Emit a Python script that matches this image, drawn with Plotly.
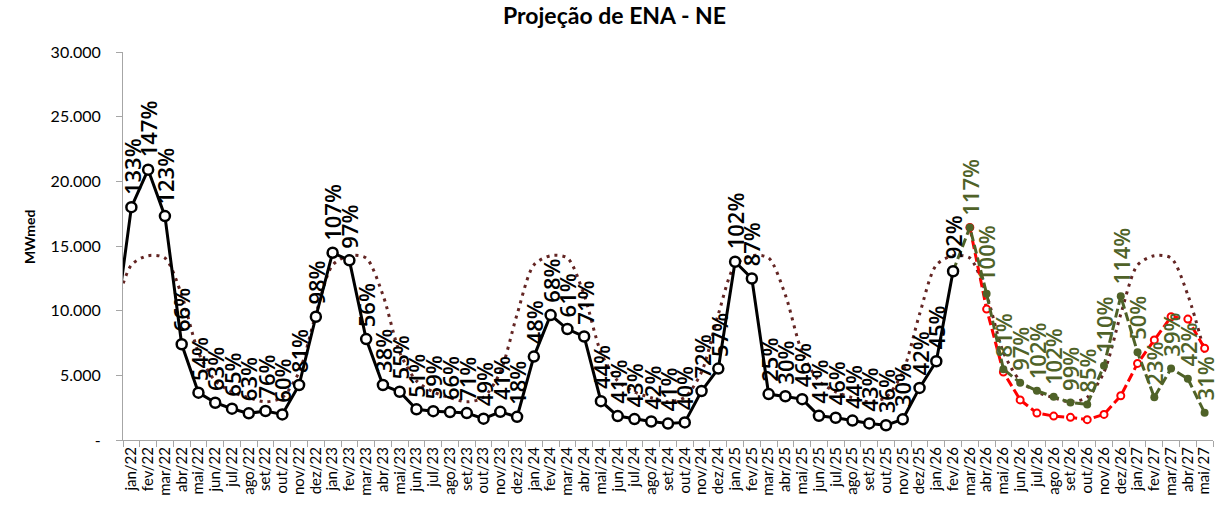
import plotly.graph_objects as go

# ---------------- data ----------------
meses = [
    "dez/21",
    "jan/22", "fev/22", "mar/22", "abr/22", "mai/22", "jun/22", "jul/22", "ago/22", "set/22", "out/22", "nov/22", "dez/22",
    "jan/23", "fev/23", "mar/23", "abr/23", "mai/23", "jun/23", "jul/23", "ago/23", "set/23", "out/23", "nov/23", "dez/23",
    "jan/24", "fev/24", "mar/24", "abr/24", "mai/24", "jun/24", "jul/24", "ago/24", "set/24", "out/24", "nov/24", "dez/24",
    "jan/25", "fev/25", "mar/25", "abr/25", "mai/25", "jun/25", "jul/25", "ago/25", "set/25", "out/25", "nov/25", "dez/25",
    "jan/26", "fev/26", "mar/26", "abr/26", "mai/26", "jun/26", "jul/26", "ago/26", "set/26", "out/26", "nov/26", "dez/26",
    "jan/27", "fev/27", "mar/27", "abr/27", "mai/27",
]

# MLT (long-term mean), dez/21 .. mai/27
mlt = [
    9720,
    13530, 14250, 14070, 11210, 6780, 4570, 3720, 3270, 2950, 3300, 5250, 9720,
    13530, 14250, 14070, 11210, 6780, 4570, 3720, 3270, 2950, 3300, 5250, 9720,
    13530, 14250, 14070, 11210, 6780, 4570, 3720, 3270, 2950, 3300, 5250, 9720,
    13530, 14250, 14070, 11210, 6780, 4570, 3720, 3270, 2950, 3300, 5250, 9720,
    13530, 14250, 14070, 11210, 6780, 4570, 3720, 3270, 2950, 3300, 5250, 9720,
    13530, 14250, 14070, 11210, 6780,
]

# Verified ENA, dez/21 .. fev/26
ena_meses = meses[0:51]
ena = [
    8300,
    18000, 20900, 17310, 7400, 3660, 2880, 2420, 2060, 2240, 1980, 4250, 9530,
    14480, 13890, 7800, 4250, 3730, 2370, 2230, 2160, 2080, 1650, 2180, 1790,
    6450, 9660, 8580, 8000, 3000, 1850, 1620, 1430, 1270, 1360, 3790, 5520,
    13780, 12490, 3550, 3380, 3160, 1870, 1720, 1500, 1280, 1140, 1600, 4030,
    6090, 13050,
]
ena_pct = [
    "",
    "133%", "147%", "123%", "66%", "54%", "63%", "65%", "63%", "76%", "60%", "81%", "98%",
    "107%", "97%", "56%", "38%", "55%", "51%", "59%", "66%", "71%", "49%", "41%", "18%",
    "48%", "68%", "61%", "71%", "44%", "41%", "43%", "42%", "41%", "40%", "72%", "57%",
    "102%", "87%", "25%", "30%", "46%", "41%", "46%", "44%", "43%", "36%", "30%", "42%",
    "45%", "92%",
]

# Projection (green), fev/26 .. mai/27
proj_meses = meses[50:66]
proj = [13050, 16440, 11300, 5480, 4430, 3800, 3340, 2900, 2750, 5750, 11120,
        6780, 3300, 5520, 4740, 2100]
proj_pct = ["", "117%", "100%", "81%", "97%", "102%", "102%", "99%", "85%", "110%", "114%",
            "50%", "23%", "39%", "42%", "31%"]

# Alternative scenario (red), mar/26 .. mai/27
alt_meses = meses[51:66]
alt = [16440, 10120, 5250, 3100, 2080, 1850, 1750, 1570, 1980, 3420,
       5920, 7730, 9530, 9350, 7090]

y_ticks = [0, 5000, 10000, 15000, 20000, 25000, 30000]
y_ticktext = ["-", "5.000", "10.000", "15.000", "20.000", "25.000", "30.000"]

# ---------------- styles ----------------
FONT = "Lato"
LABEL_FONT = "Open Sans"
C_MLT = "#632523"
C_HIST = "#000000"
C_PROJ = "#4F6228"
C_ALT = "#FF0000"
AXIS_GRAY = "#A6A6A6"

fig = go.Figure()

fig.add_trace(go.Scatter(
    x=meses, y=mlt, mode="lines", name="MLT",
    line=dict(color=C_MLT, width=3, dash="3px,5px", shape="spline", smoothing=0.8),
    hoverinfo="skip",
))
fig.add_trace(go.Scatter(
    x=alt_meses, y=alt, mode="lines+markers", name="Cenário",
    line=dict(color=C_ALT, width=3, dash="9px,4px"),
    marker=dict(symbol="circle", size=7, color="white", line=dict(color=C_ALT, width=2)),
))
fig.add_trace(go.Scatter(
    x=proj_meses, y=proj, mode="lines+markers", name="Projeção",
    line=dict(color=C_PROJ, width=3, dash="9px,4px"),
    marker=dict(symbol="circle", size=8, color=C_PROJ),
))
fig.add_trace(go.Scatter(
    x=ena_meses, y=ena, mode="lines+markers", name="ENA",
    line=dict(color=C_HIST, width=3),
    marker=dict(symbol="circle", size=10, color="white", line=dict(color=C_HIST, width=2.5)),
))

annotations = []
for xm, yv, t in zip(ena_meses, ena, ena_pct):
    if t:
        annotations.append(dict(
            x=xm, y=yv, xref="x", yref="y", text=t, showarrow=False,
            textangle=-90, xanchor="center", yanchor="bottom", yshift=10,
            font=dict(family=LABEL_FONT, size=22, color=C_HIST, weight=600),
        ))
for xm, yv, t in zip(proj_meses, proj, proj_pct):
    if t:
        annotations.append(dict(
            x=xm, y=yv, xref="x", yref="y", text=t, showarrow=False,
            textangle=-90, xanchor="center", yanchor="bottom", yshift=10,
            font=dict(family=LABEL_FONT, size=22, color=C_PROJ, weight=600),
        ))
annotations.append(dict(
    x=-0.0862, y=0.523, xref="paper", yref="paper", text="<b>MWmed</b>",
    showarrow=False, textangle=-90, xanchor="center", yanchor="middle",
    font=dict(family=FONT, size=14, color="#000000"),
))

fig.update_layout(
    width=1229, height=507,
    margin=dict(l=123, r=16, t=52, b=67),
    paper_bgcolor="white", plot_bgcolor="white",
    showlegend=False,
    font=dict(family=FONT, color="#000000"),
    title=dict(text="<b>Projeção de ENA - NE</b>", x=0.5, xref="container",
               y=1 - 16 / 507, yref="container", xanchor="center", yanchor="middle",
               font=dict(family=FONT, size=23, color="#000000")),
    annotations=annotations,
    xaxis=dict(
        type="category", categoryorder="array", categoryarray=meses,
        range=[0.5, 65.5], tickson="boundaries", ticks="outside", ticklen=6,
        tickmode="array", tickvals=meses, ticktext=meses,
        tickcolor=AXIS_GRAY, tickangle=-90, showline=True, linecolor=AXIS_GRAY,
        linewidth=1, showgrid=False, zeroline=False,
        tickfont=dict(family=FONT, size=15, color="#000000"),
    ),
    yaxis=dict(
        range=[0, 30000], tickvals=y_ticks, ticktext=y_ticktext,
        ticks="outside", ticklen=6, tickcolor=AXIS_GRAY, showline=True,
        linecolor=AXIS_GRAY, linewidth=1, showgrid=False, zeroline=False,
        ticklabelstandoff=12,
        tickfont=dict(family=FONT, size=16, color="#000000"),
    ),
)

fig.write_html("out.html", config={"displayModeBar": False},
               post_script="document.body.style.margin='0';")
